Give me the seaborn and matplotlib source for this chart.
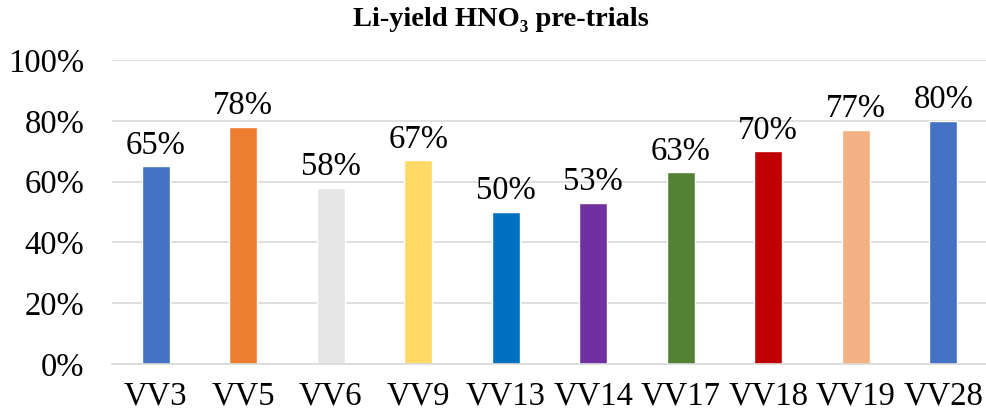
import matplotlib
matplotlib.use("Agg")
import matplotlib.pyplot as plt
import seaborn as sns
import pandas as pd
from matplotlib.ticker import PercentFormatter

categories = ["VV3", "VV5", "VV6", "VV9", "VV13", "VV14", "VV17", "VV18", "VV19", "VV28"]
values = [65, 78, 58, 67, 50, 53, 63, 70, 77, 80]
colors = ["#4472C4", "#ED7D31", "#E7E6E6", "#FFD966", "#0070C0",
          "#7030A0", "#548235", "#C00000", "#F4B183", "#4472C4"]
yticks = [0, 20, 40, 60, 80, 100]
title = "Li-yield HNO\u2083 pre-trials"

sns.set_theme(style="white")
plt.rcParams["font.family"] = ["Liberation Serif", "DejaVu Serif"]

df = pd.DataFrame({"cat": categories, "val": values})

fig = plt.figure(figsize=(9.87, 4.17), dpi=100)
ax = fig.add_axes([112 / 987, 53 / 417, 875 / 987, 304 / 417])

sns.barplot(data=df, x="cat", y="val", hue="cat", palette=colors,
            width=0.325, legend=False, ax=ax, saturation=1)

ax.set_ylim(0, 100)
ax.set_xlim(-0.5, len(categories) - 0.5)
ax.set_yticks(yticks)
ax.yaxis.set_major_formatter(PercentFormatter(decimals=0))
ax.grid(axis="y", color="#d9d9d9", linewidth=1.2)
ax.set_axisbelow(True)
for s in ["left", "right", "top"]:
    ax.spines[s].set_visible(False)
ax.spines["bottom"].set_color("#d9d9d9")
ax.spines["bottom"].set_linewidth(1.2)
ax.tick_params(axis="y", length=0, pad=20, labelsize=23.5, colors="black")
ax.tick_params(axis="x", length=0, pad=12, labelsize=23.5, colors="black")
ax.set_xlabel("")
ax.set_ylabel("")

for i, v in enumerate(values):
    ax.annotate(f"{v}%", (i, v), xytext=(0, 4), textcoords="offset points",
                ha="center", va="bottom", fontsize=23.5, color="black")

fig.text(501 / 987, 1 - 19 / 417, title, ha="center", va="center",
         fontsize=20.5, fontweight="bold", color="black")

fig.savefig("out.png", dpi=100)
